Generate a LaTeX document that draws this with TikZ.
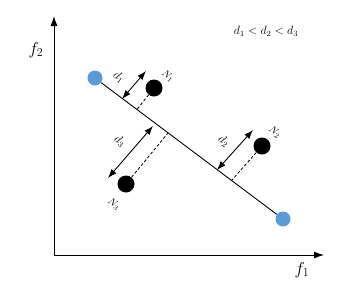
\documentclass[tikz,border=0pt]{standalone}
\usepackage{amsmath}
\usetikzlibrary{
    positioning,
    calc,
    arrows.meta
}
\definecolor{AzulPonto}{HTML}{5B9BD5}

\begin{document}
\begin{tikzpicture}[
    x=1pt, y=-1pt,
    extremo/.style={circle, fill=AzulPonto, minimum size=15pt, inner sep=0pt},
    solucao/.style={circle, fill=black, minimum size=17pt, inner sep=0pt},
    eixo/.style={line width=0.9pt, -{Latex[length=10pt, width=7pt]}},
    distancia/.style={line width=0.9pt, {Latex[length=9pt, width=6.5pt]}-{Latex[length=9pt, width=6.5pt]}},
    projecao/.style={line width=0.8pt, dashed, dash pattern=on 3pt off 2pt},
    rotulo/.style={rotate=-38, inner sep=0pt}
]
    \useasboundingbox (0,0) rectangle (347,295);

    % eixos
    \coordinate (origem) at (54,255);
    \coordinate (topoY) at (54,16);
    \coordinate (fimX) at (324,255);
    \draw[eixo] (origem) -- (topoY);
    \draw[eixo] (origem) -- (fimX);
    \node (f2) at (36,50) {\LARGE $f_2$};
    \node (f1) at (302,270) {\LARGE $f_1$};

    % pontos extremos e reta
    \node[extremo] (p1) at (95,78) {};
    \node[extremo] (p2) at (283,219) {};
    \draw[line width=0.9pt] (p1) -- (p2);

    % solucoes
    \node[solucao] (n1) at (154,88) {};
    \node[solucao] (n2) at (262,146) {};
    \node[solucao] (n3) at (126,184) {};

    % pes na reta
    \coordinate (pe1) at (122,99);
    \coordinate (pe2) at (217,170);
    \coordinate (pe3) at (153,126);
    \coordinate (q1) at (137,109.5);
    \coordinate (q2) at (232,180);
    \coordinate (q3) at (168,133);
    \coordinate (ponta1) at (146,71);
    \coordinate (ponta2) at (253,130);
    \coordinate (ponta3) at (108,178);

    \draw[distancia] (pe1) -- (ponta1);
    \draw[distancia] (pe2) -- (ponta2);
    \draw[distancia] (pe3) -- (ponta3);

    \draw[projecao] (n1) -- (q1);
    \draw[projecao] (n2) -- (q2);
    \draw[projecao] (n3) -- (q3);

    % rotulos
    \node[rotulo] (d1) at (119,77) {\large $d_1$};
    \node[rotulo] (d2) at (224,141) {\large $d_2$};
    \node[rotulo] (d3) at (120,141) {\large $d_3$};
    \node[rotulo] (r1) at (168,76) {$N_1$};
    \node[rotulo] (r2) at (275,132) {$N_2$};
    \node[rotulo] (r3) at (114,204) {$N_3$};

    \node (ordem) at (266,31) {\large $d_1 < d_2 < d_3$};

\end{tikzpicture}
\end{document}
